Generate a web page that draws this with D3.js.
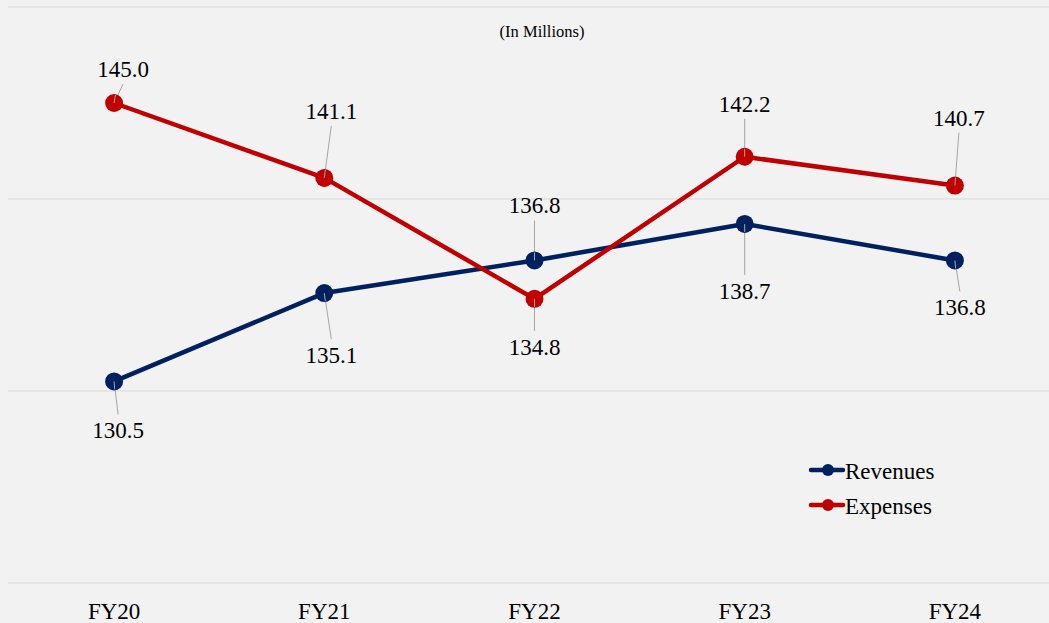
<!DOCTYPE html>
<html>
<head>
<meta charset="utf-8">
<script src="https://cdn.jsdelivr.net/npm/d3@7"></script>
<style>
  html, body { margin: 0; padding: 0; background: #f2f2f2; }
  svg { display: block; }
</style>
</head>
<body>
<svg id="chart" width="1049" height="623"></svg>
<script>
// ---- data ----
const categories = ["FY20", "FY21", "FY22", "FY23", "FY24"];
const revenues = [130.5, 135.1, 136.8, 138.7, 136.8];
const expenses = [145.0, 141.1, 134.8, 142.2, 140.7];
const gridValues = [120, 130, 140, 150];
const seriesNames = ["Revenues", "Expenses"];
const subtitle = "(In Millions)";

// ---- label placement (dx, baseline dy relative to point) ----
const revLabelOffsets = [[4, 57], [7, 70], [0, -47], [0, 75], [5, 55]];
const expLabelOffsets = [[9, -26], [7, -59], [0, 56], [0, -45], [4, -60]];

const colors = { Revenues: "#002060", Expenses: "#c00000" };
const FONT = "'Liberation Serif', 'Times New Roman', Times, serif";

const W = 1049, H = 623;
const svg = d3.select("#chart");
svg.append("rect").attr("width", W).attr("height", H).attr("fill", "#f2f2f2");

const x = d3.scaleBand().domain(categories).range([9, 1060]).padding(0);
const cx = d => x(d) + x.bandwidth() / 2;
const y = d3.scaleLinear().domain([120, 150]).range([583, 7]);

// gridlines
svg.append("g").selectAll("line").data(gridValues).join("line")
  .attr("x1", 8).attr("x2", W)
  .attr("y1", d => y(d)).attr("y2", d => y(d))
  .attr("stroke", "#d9d9d9").attr("stroke-width", 1);

// subtitle
svg.append("text").attr("x", 542).attr("y", 37)
  .attr("text-anchor", "middle").style("font-family", FONT).style("font-size", "16.5px")
  .attr("fill", "#000").text(subtitle);

// x axis labels
const xAxis = d3.axisBottom(x).tickSize(0).tickPadding(0);
const gx = svg.append("g").attr("transform", "translate(0,600)").call(xAxis);
gx.select(".domain").remove();
gx.selectAll("text").style("font-size", "23px").style("font-family", FONT)
  .attr("fill", "#000").attr("dy", null).attr("y", 19);

const series = [
  { name: "Revenues", values: revenues, offsets: revLabelOffsets },
  { name: "Expenses", values: expenses, offsets: expLabelOffsets }
];

const line = d3.line().x(d => cx(d.cat)).y(d => y(d.v));

series.forEach(s => {
  const pts = categories.map((c, i) => ({ cat: c, v: s.values[i], off: s.offsets[i] }));
  const g = svg.append("g");
  g.selectAll("line.leader").data(pts).join("line").attr("class", "leader")
    .attr("x1", d => cx(d.cat)).attr("y1", d => y(d.v))
    .attr("x2", d => cx(d.cat) + d.off[0])
    .attr("y2", d => y(d.v) + d.off[1] + (d.off[1] < 0 ? 7 : -24))
    .attr("stroke", "#a6a6a6").attr("stroke-width", 1);
  g.append("path").datum(pts).attr("d", line)
    .attr("fill", "none").attr("stroke", colors[s.name])
    .attr("stroke-width", 4.5).attr("stroke-linejoin", "round");
  g.selectAll("circle").data(pts).join("circle")
    .attr("cx", d => cx(d.cat)).attr("cy", d => y(d.v)).attr("r", 9)
    .attr("fill", colors[s.name]);
  g.selectAll("line.leader2").data(pts).join("line").attr("class", "leader2")
    .attr("x1", d => cx(d.cat)).attr("y1", d => y(d.v))
    .attr("x2", d => cx(d.cat) + d.off[0] * 0.15)
    .attr("y2", d => y(d.v) + (d.off[1] < 0 ? -8 : 8))
    .attr("stroke", "#a6a6a6").attr("stroke-width", 1);
  g.selectAll("text.lbl").data(pts).join("text").attr("class", "lbl")
    .attr("x", d => cx(d.cat) + d.off[0])
    .attr("y", d => y(d.v) + d.off[1])
    .attr("text-anchor", "middle")
    .style("font-family", FONT).style("font-size", "23px").attr("fill", "#000")
    .text(d => d.v.toFixed(1));
});

// legend
const legend = svg.append("g");
const legY = [470, 505];
seriesNames.forEach((n, i) => {
  const gy = legY[i];
  legend.append("line").attr("x1", 811).attr("x2", 843).attr("y1", gy).attr("y2", gy)
    .attr("stroke", colors[n]).attr("stroke-width", 4.5).attr("stroke-linecap", "round");
  legend.append("circle").attr("cx", 828).attr("cy", gy).attr("r", 6).attr("fill", colors[n]);
  legend.append("text").attr("x", 845).attr("y", gy + 8.5)
    .style("font-family", FONT).style("font-size", "23px").attr("fill", "#000").text(n);
});
</script>
</body>
</html>
